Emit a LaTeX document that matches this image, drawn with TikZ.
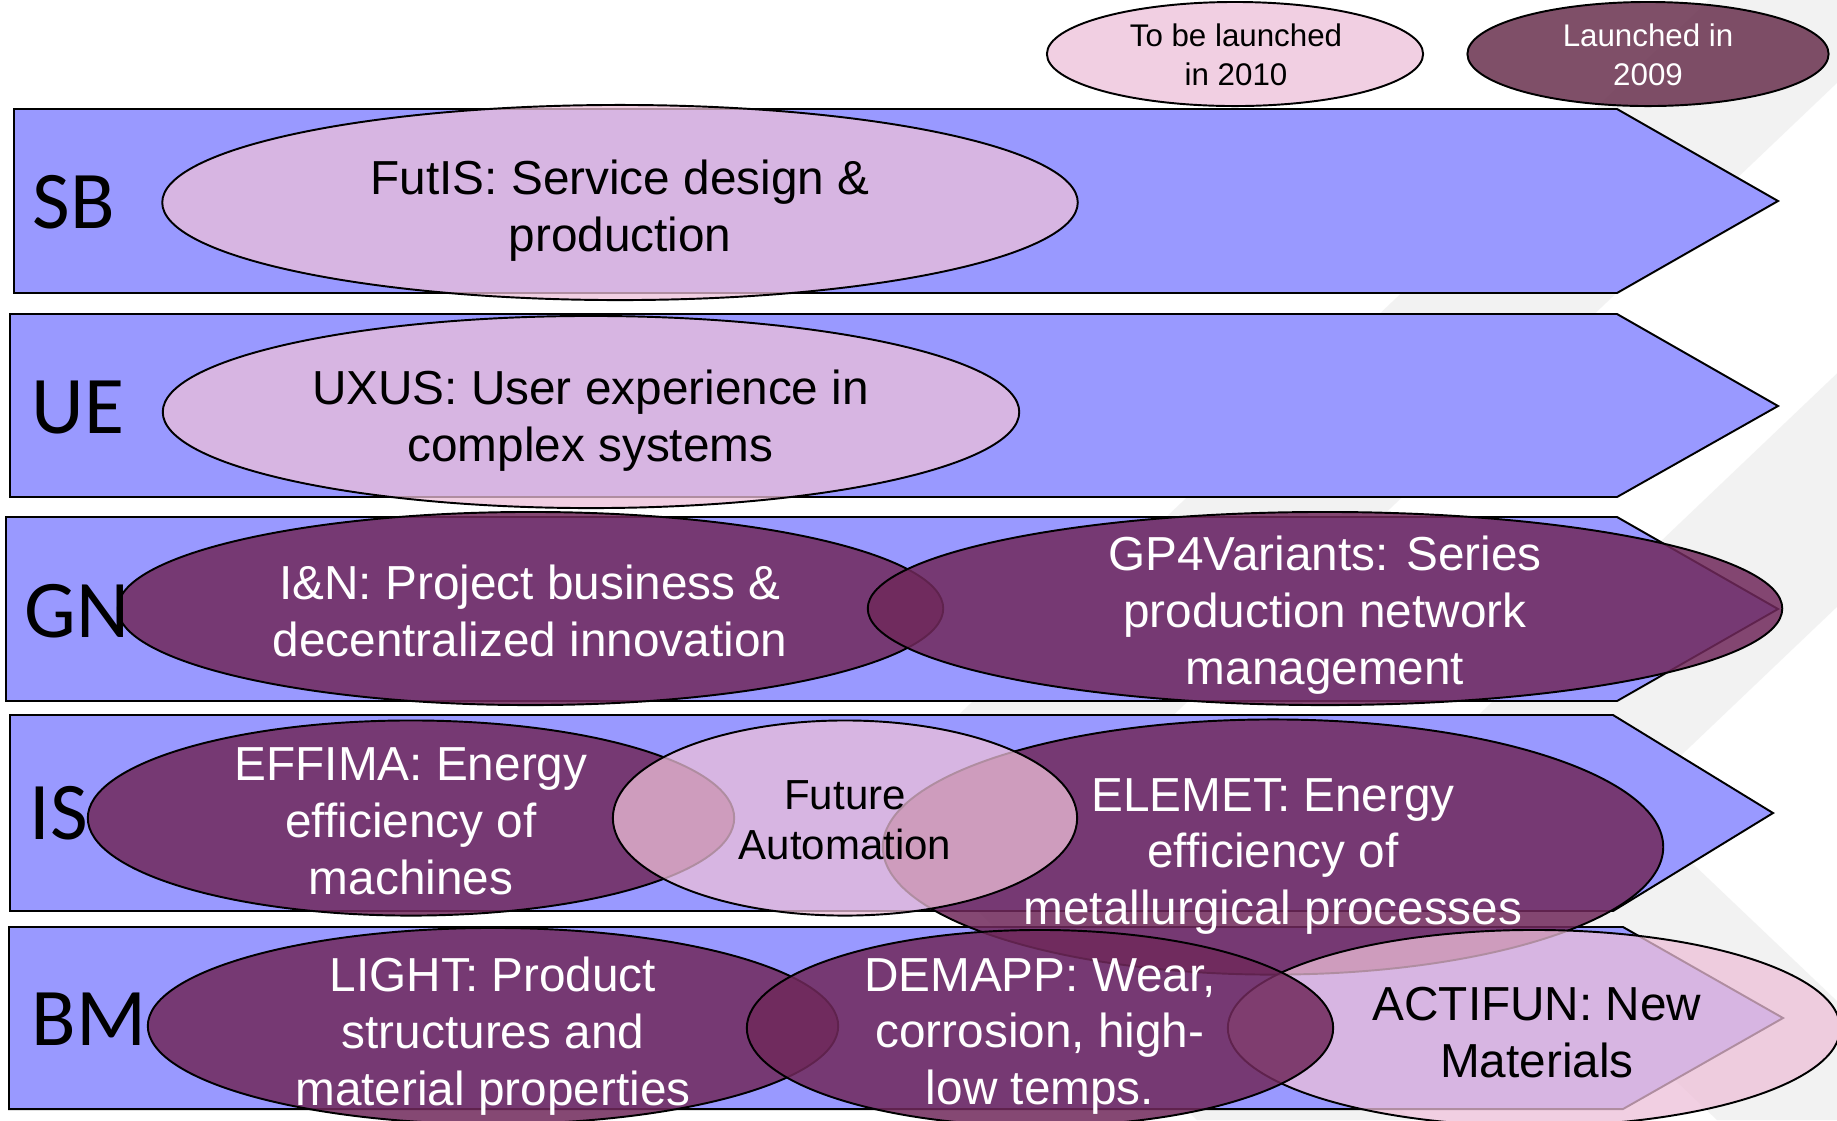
\documentclass[tikz,border=0pt]{standalone}
\usepackage{fontspec}
\setmainfont{Liberation Sans}
\newfontfamily\labfont{Carlito}
\usetikzlibrary{shapes.geometric}
\definecolor{rowblue}{RGB}{153,153,255}
\definecolor{pinkfill}{RGB}{237,191,216}
\definecolor{darkfill}{RGB}{112,41,91}
\definecolor{legdark}{RGB}{105,49,78}
\definecolor{bggray}{RGB}{242,242,242}
\begin{document}
\begin{tikzpicture}[x=0.01cm,y=-0.01cm,
  rowarrow/.style={draw=black, line width=0.55pt, fill=rowblue, line join=miter},
  ell/.style={ellipse, draw=black, line width=0.55pt, inner sep=0pt, outer sep=0pt},
  pinkell/.style={ell, fill=pinkfill, fill opacity=0.74},
  darkell/.style={ell, fill=darkfill, fill opacity=0.85},
  txt/.style={align=center, inner sep=0pt, text opacity=1, font=\fontsize{13.57pt}{16.2pt}\selectfont},
  wtxt/.style={txt, text=white},
  btxt/.style={txt, text=black},
  legtxt/.style={align=center, inner sep=0pt, font=\fontsize{8.9pt}{11.1pt}\selectfont},
  rowlabel/.style={anchor=west, inner sep=0pt, font=\labfont\fontsize{23.3pt}{28pt}\selectfont}
]
\useasboundingbox (0,0) rectangle (1837,1120);
\fill[white] (0,0) rectangle (1837,1120);
% background chevrons
\begin{scope}
\clip (0,0) rectangle (1837,1120);
\fill[bggray] (1709,0) -- (1924,0) -- (1080,804) -- (1412,1120) -- (1197,1120) -- (865,804) -- cycle;
\fill[bggray] (2229,0) -- (2474,0) -- (1630,804) -- (1962,1120) -- (1717,1120) -- (1385,804) -- cycle;
\end{scope}

% legend
\node[pinkell, minimum width=3.76cm, minimum height=1.04cm] (leg1) at (1235,54) {};
\node[legtxt, text=black] (leg1t) at (1236,55) {To be launched\\in 2010};
\node[ell, fill=legdark, fill opacity=0.85, minimum width=3.61cm, minimum height=1.04cm] (leg2) at (1648,54) {};
\node[legtxt, text=white] (leg2t) at (1648,55) {Launched in\\2009};

% rows
\draw[rowarrow] (14,109) -- (1617,109) -- (1778,201) -- (1617,293) -- (14,293) -- cycle;
\draw[rowarrow] (10,314) -- (1617,314) -- (1778,406) -- (1617,497) -- (10,497) -- cycle;
\draw[rowarrow] (6,517) -- (1617,517) -- (1778,609) -- (1617,701) -- (6,701) -- cycle;
\draw[rowarrow] (10,715) -- (1613,715) -- (1773,813) -- (1613,911) -- (10,911) -- cycle;
\draw[rowarrow] (9,927) -- (1623,927) -- (1783,1018) -- (1623,1109) -- (9,1109) -- cycle;

% SB
\node[pinkell, minimum width=9.15cm, minimum height=1.95cm] (futis) at (620,202.5) {};
\node[btxt] (futist) at (620,211) {FutIS: Service design \&\\production};
% UE
\node[pinkell, minimum width=8.56cm, minimum height=1.92cm] (uxus) at (591,412) {};
\node[btxt] (uxust) at (590.5,421) {UXUS: User experience in\\complex systems};
% GN
\node[darkell, minimum width=8.25cm, minimum height=1.93cm] (inn) at (530.5,608.5) {};
\node[wtxt] (innt) at (530,611) {I\&N: Project business \&\\decentralized innovation};
\node[darkell, minimum width=9.14cm, minimum height=1.93cm] (gp4) at (1325,608.5) {};
\node[wtxt] (gp4t) at (1325,615) {GP4Variants: Series\\production network\\management};
% IS
\node[darkell, minimum width=6.46cm, minimum height=1.95cm] (effima) at (411,818) {};
\node[wtxt] (effimat) at (411,821) {EFFIMA: Energy\\efficiency of\\machines};
\node[darkell, minimum width=7.80cm, minimum height=2.55cm] (elemet) at (1273,847) {};
\node[wtxt] (elemett) at (1273,856.5) {ELEMET: Energy\\efficiency of\\metallurgical processes};
\node[pinkell, minimum width=4.64cm, minimum height=1.95cm] (fa) at (845,818) {};
\node[btxt, font=\fontsize{11.95pt}{14.3pt}\selectfont] (fat) at (845,820) {Future\\Automation};
% BM
\node[darkell, minimum width=6.90cm, minimum height=1.96cm] (light) at (493,1026) {};
\node[wtxt] (lightt) at (493,1036.5) {LIGHT: Product\\structures and\\material properties};
\node[pinkell, minimum width=6.12cm, minimum height=1.96cm] (actifun) at (1534,1028) {};
\node[btxt] (actifunt) at (1537,1032.5) {ACTIFUN: New\\Materials};
\node[darkell, minimum width=5.86cm, minimum height=1.96cm] (demapp) at (1040,1028) {};
\node[wtxt] (demappt) at (1040,1036.5) {DEMAPP: Wear,\\corrosion, high-\\low temps.};

% row labels
\node[rowlabel] (sb) at (32,202.5) {SB};
\node[rowlabel] (ue) at (31,407) {UE};
\node[rowlabel] (gn) at (24,611) {GN};
\node[rowlabel] (is) at (29,813) {IS};
\node[rowlabel] (bm) at (31,1019) {BM};
\end{tikzpicture}
\end{document}
